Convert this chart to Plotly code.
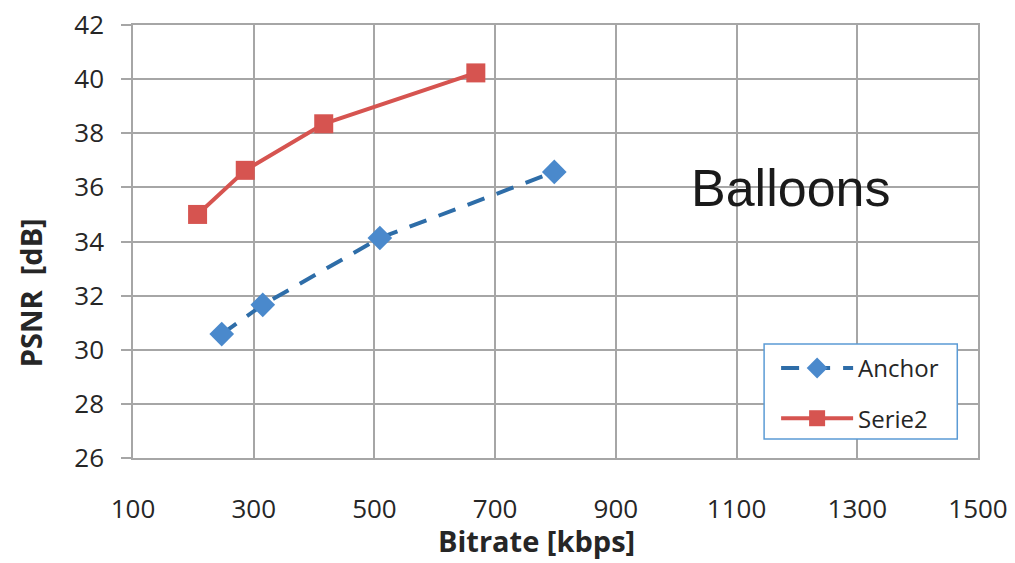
import plotly.graph_objects as go

# Rate-distortion points (bitrate in kbps, PSNR in dB)
anchor_bitrate = [247, 315, 509, 798]
anchor_psnr = [30.58, 31.66, 34.13, 36.57]

serie2_bitrate = [207, 286, 416, 668]
serie2_psnr = [35.0, 36.63, 38.35, 40.23]

x_ticks = [100, 300, 500, 700, 900, 1100, 1300, 1500]
y_ticks = [26, 28, 30, 32, 34, 36, 38, 40, 42]

FONT = "Open Sans, Segoe UI, sans-serif"
GRID = "#a6a6a6"
TXT = "#262626"

# plot-area geometry in pixels, used to place paper-referenced items
L, R, T, B = 133.5, 977.7, 25.3, 458.0
W, H = R - L, B - T


def px(x):
    return (x - L) / W


def py(y):
    return (B - y) / H


fig = go.Figure()

fig.add_trace(go.Scatter(
    x=anchor_bitrate, y=anchor_psnr, name="Anchor", legendgroup="a",
    mode="lines+markers",
    line=dict(color="#2e6da8", width=4, dash="18px,13px"),
    marker=dict(symbol="diamond", size=19, color="#4a89cc",
                line=dict(width=0)),
))

fig.add_trace(go.Scatter(
    x=serie2_bitrate, y=serie2_psnr, name="Serie2", legendgroup="b",
    mode="lines+markers",
    line=dict(color="#d65450", width=4),
    marker=dict(symbol="square", size=19, color="#d65450",
                line=dict(width=0)),
))

fig.update_layout(
    width=1015, height=563,
    margin=dict(l=133, r=37, t=25, b=105, autoexpand=False),
    paper_bgcolor="white", plot_bgcolor="white",
    font=dict(family=FONT, color=TXT, size=24),
    showlegend=True,
    legend=dict(
        x=px(776), y=py(346), xanchor="left", yanchor="top",
        bgcolor="rgba(0,0,0,0)", borderwidth=0,
        font=dict(family=FONT, size=24, color=TXT),
        itemwidth=72, tracegroupgap=16,
    ),
    shapes=[
        # legend frame
        dict(type="rect", xref="paper", yref="paper",
             x0=px(764), x1=px(957), y0=py(439), y1=py(344),
             line=dict(color="#5b9bd5", width=1.5), fillcolor="white",
             layer="above"),
    ],
    annotations=[
        dict(text="Balloons", xref="paper", yref="paper",
             x=px(790), y=py(188), xanchor="center", yanchor="middle",
             showarrow=False,
             font=dict(family="Liberation Sans, Arial, sans-serif",
                       size=52, color="#1a1a1a")),
        dict(text="<b>Bitrate [kbps]</b>", xref="paper", yref="paper",
             x=px(537), y=py(562), xanchor="center", yanchor="bottom",
             showarrow=False,
             font=dict(family=FONT, size=29, color=TXT)),
        dict(text="<b>PSNR  [dB]</b>", xref="paper", yref="paper",
             x=px(31), y=py(293), textangle=-90,
             xanchor="center", yanchor="middle", showarrow=False,
             font=dict(family=FONT, size=29, color=TXT)),
    ],
)

fig.update_xaxes(
    range=[100, 1500], tickvals=x_ticks, automargin=False,
    showgrid=True, gridcolor=GRID, gridwidth=1.5,
    showline=True, linecolor=GRID, linewidth=1.5, mirror=True,
    zeroline=False, ticks="", ticklabelstandoff=27,
    tickfont=dict(family=FONT, size=26, color=TXT),
)
fig.update_yaxes(
    range=[26, 42], tickvals=y_ticks, automargin=False,
    showgrid=True, gridcolor=GRID, gridwidth=1.5,
    showline=True, linecolor=GRID, linewidth=1.5, mirror=True,
    zeroline=False, ticks="outside", ticklen=10, tickcolor=GRID,
    tickwidth=1.5, ticklabelstandoff=12,
    tickfont=dict(family=FONT, size=26, color=TXT),
)

fig.write_html("out.html")
